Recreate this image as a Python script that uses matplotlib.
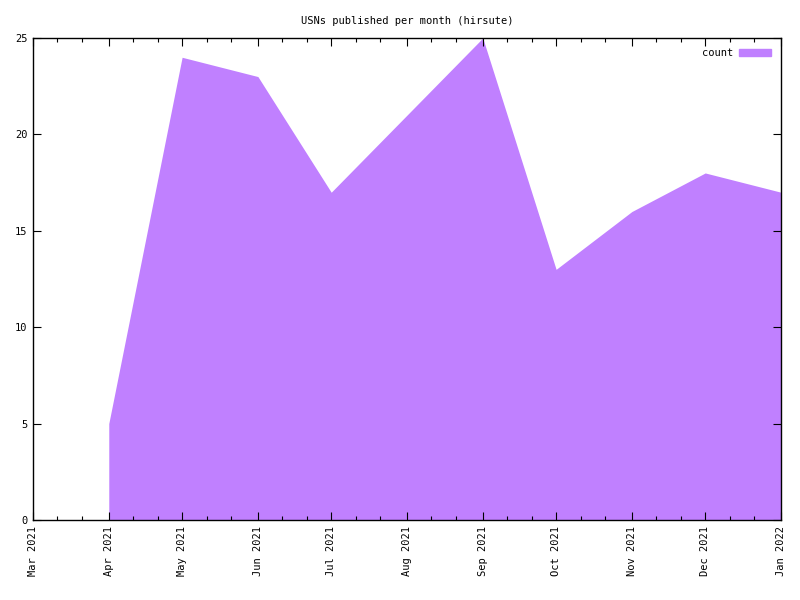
import matplotlib
matplotlib.use("Agg")
import matplotlib.pyplot as plt
import matplotlib.dates as mdates
from matplotlib.patches import Patch
import datetime as dt

months = ["2021-04", "2021-05", "2021-06", "2021-07", "2021-08",
          "2021-09", "2021-10", "2021-11", "2021-12", "2022-01"]
counts = [5, 24, 23, 17, 21, 25, 13, 16, 18, 17]
title = "USNs published per month (hirsute)"
series_name = "count"
color = "#c080ff"

dates = [dt.datetime.strptime(m, "%Y-%m") for m in months]

plt.rcParams['font.family'] = ['DejaVu Sans Mono']
fig = plt.figure(figsize=(8, 6), dpi=100)
ax = fig.add_axes([33/800, 1 - 520/600, (781 - 33)/800, (520 - 38)/600])

ax.fill_between(dates, counts, 0, color=color, linewidth=0)

ax.set_xlim(dt.datetime(2021, 3, 1), dt.datetime(2022, 1, 1))
ax.set_ylim(0, 25)

ax.xaxis.set_major_locator(mdates.MonthLocator())
ax.xaxis.set_major_formatter(mdates.DateFormatter("%b %Y"))
ax.xaxis.set_minor_locator(mdates.DayLocator(bymonthday=[11, 21]))
ax.set_yticks([0, 5, 10, 15, 20, 25])

for lab in ax.get_xticklabels():
    lab.set_rotation(90)
ax.tick_params(axis='both', which='both', direction='in', top=True, right=True,
               labelsize=7.5, width=0.8, color='black')
ax.tick_params(axis='both', which='major', length=6, pad=4)
ax.tick_params(axis='both', which='minor', length=3)
for s in ax.spines.values():
    s.set_linewidth(1.0)

ax.set_title(title, fontsize=7.5, pad=10)

leg = ax.legend(handles=[Patch(facecolor=color, edgecolor=color, label=series_name)],
                loc='upper right', frameon=False, markerfirst=False,
                fontsize=7.5, handlelength=3.0, handleheight=0.7,
                borderaxespad=0.6, handletextpad=0.55)

fig.savefig("out.png", dpi=100)
